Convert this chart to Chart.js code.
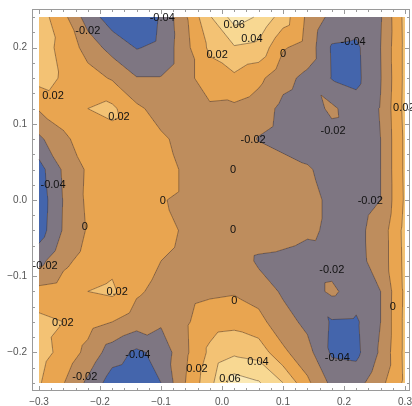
<!DOCTYPE html>
<html>
<head>
<meta charset="utf-8">
<script src="https://cdn.jsdelivr.net/npm/chart.js@4.4.1/dist/chart.umd.min.js"></script>
<style>
  html, body { margin: 0; padding: 0; background: #fff; }
  #wrap { width: 412px; height: 406px; }
</style>
</head>
<body>
<div id="wrap"><canvas id="myChart" width="412" height="406"></canvas></div>
<script>
// sample grid
var xGrid = [-0.30, -0.26, -0.22, -0.18, -0.14, -0.10, -0.06, -0.02, 0.02, 0.06, 0.10, 0.14, 0.18, 0.22, 0.26, 0.30];
var yGrid = [0.24, 0.20, 0.16, 0.12, 0.08, 0.04, 0.00, -0.04, -0.08, -0.12, -0.16, -0.20, -0.24];
var zRows = [
  [0.030, 0.006, -0.030, -0.050, -0.055, -0.038, -0.003, 0.038, 0.068, 0.058, 0.030, -0.004, -0.026, -0.030, -0.022, 0.026],
  [0.028, 0.015, -0.008, -0.028, -0.041, -0.036, -0.006, 0.024, 0.038, 0.034, 0.002, -0.008, -0.042, -0.044, -0.020, 0.025],
  [0.027, 0.018, 0.008, -0.002, -0.019, -0.019, -0.006, 0.010, 0.016, 0.005, -0.014, -0.025, -0.041, -0.045, -0.021, 0.025],
  [0.002, 0.010, 0.020, 0.024, 0.004, -0.008, -0.010, -0.003, -0.004, -0.010, -0.025, -0.030, -0.016, -0.032, -0.019, 0.026],
  [-0.024, -0.004, 0.010, 0.014, 0.010, 0.003, -0.006, -0.006, -0.010, -0.021, -0.027, -0.030, -0.028, -0.030, -0.020, 0.024],
  [-0.048, -0.017, 0.003, 0.010, 0.012, 0.008, -0.003, -0.006, -0.007, -0.010, -0.012, -0.018, -0.027, -0.030, -0.020, 0.024],
  [-0.052, -0.019, 0.004, 0.010, 0.008, 0.001, -0.003, -0.002, -0.002, -0.004, -0.008, -0.014, -0.024, -0.028, -0.020, 0.023],
  [-0.050, -0.018, 0.002, 0.010, 0.009, 0.005, -0.002, -0.002, -0.002, -0.006, -0.010, -0.016, -0.024, -0.025, -0.012, 0.026],
  [-0.026, -0.005, 0.008, 0.014, 0.010, 0.000, -0.004, -0.003, -0.004, -0.024, -0.026, -0.030, -0.028, -0.026, -0.012, 0.025],
  [0.006, 0.010, 0.020, 0.024, 0.003, -0.006, -0.008, -0.004, -0.002, -0.008, -0.023, -0.030, -0.016, -0.030, -0.020, 0.024],
  [0.026, 0.020, 0.008, 0.000, -0.010, -0.017, -0.003, 0.012, 0.014, 0.006, -0.012, -0.025, -0.042, -0.043, -0.020, 0.025],
  [0.028, 0.014, -0.006, -0.030, -0.044, -0.033, -0.004, 0.024, 0.036, 0.032, 0.004, -0.013, -0.043, -0.045, -0.017, 0.025],
  [0.022, 0.001, -0.024, -0.050, -0.055, -0.040, 0.000, 0.034, 0.070, 0.062, 0.040, 0.004, -0.025, -0.028, -0.006, 0.024]
];
var levels = [-0.04, -0.02, 0, 0.02, 0.04, 0.06];
var bandColors = ['#4465ac', '#7e7682', '#be8d5d', '#e9a550', '#f3c274', '#f8d892', '#fbe9b5'];

// contour labels
var labelText = ['-0.04', '-0.02', '0.06', '0.04', '0.02', '0', '-0.04', '0.02', '0.02', '0.02',
                 '-0.02', '-0.02', '-0.04', '0', '0', '-0.02', '0', '0', '-0.02', '-0.02',
                 '0.02', '0', '0', '0.02', '-0.04', '0.02', '0.04', '-0.04', '-0.02', '0.06'];
var labelX = [-0.098, -0.220, 0.020, 0.049, -0.008, 0.100, 0.215, -0.277, -0.169, 0.298,
              0.051, 0.182, -0.277, 0.018, -0.097, 0.243, -0.225, 0.018, -0.290, 0.180,
              -0.172, 0.020, 0.280, -0.261, -0.138, -0.041, 0.059, 0.189, -0.225, 0.013];
var labelY = [0.239, 0.222, 0.230, 0.211, 0.190, 0.192, 0.207, 0.136, 0.109, 0.121,
              0.079, 0.091, 0.020, 0.039, -0.001, -0.001, -0.035, -0.039, -0.087, -0.092,
              -0.121, -0.133, -0.140, -0.161, -0.203, -0.222, -0.213, -0.207, -0.232, -0.235];

var xTicks = [-0.3, -0.2, -0.1, 0, 0.1, 0.2, 0.3];
var yTicks = [-0.2, -0.1, 0, 0.1, 0.2];

function fmt(v) {
  return (v < -1e-9 ? '\u2212' : '') + Math.abs(v).toFixed(1);
}

function hexToRgb(h) {
  return [parseInt(h.substr(1, 2), 16), parseInt(h.substr(3, 2), 16), parseInt(h.substr(5, 2), 16)];
}

function bandOf(v) {
  var b = 0;
  while (b < levels.length && v >= levels[b]) b++;
  return b;
}

// value inside the grid, split each cell into two triangles
function valueAt(x, y) {
  var dx = xGrid[1] - xGrid[0], dy = yGrid[0] - yGrid[1];
  var i = Math.floor((x - xGrid[0]) / dx), j = Math.floor((yGrid[0] - y) / dy);
  i = Math.max(0, Math.min(xGrid.length - 2, i));
  j = Math.max(0, Math.min(yGrid.length - 2, j));
  var u = (x - xGrid[i]) / dx, v = (yGrid[j] - y) / dy;
  var a = zRows[j][i], b = zRows[j][i + 1], c = zRows[j + 1][i], d = zRows[j + 1][i + 1];
  if (u >= v) return a + (b - a) * u + (d - b) * v;
  return a + (c - a) * v + (d - c) * u;
}

var contourPlugin = {
  id: 'contour',
  beforeDatasetsDraw: function (chart) {
    var c = chart.ctx, sx = chart.scales.x, sy = chart.scales.y;
    var left = Math.round(sx.getPixelForValue(xGrid[0]));
    var right = Math.round(sx.getPixelForValue(xGrid[xGrid.length - 1]));
    var top = Math.round(sy.getPixelForValue(yGrid[0]));
    var bottom = Math.round(sy.getPixelForValue(yGrid[yGrid.length - 1]));
    var w = right - left, h = bottom - top;
    var off = document.createElement('canvas');
    off.width = w; off.height = h;
    var octx = off.getContext('2d');
    var img = octx.createImageData(w, h);
    var rgb = bandColors.map(hexToRgb);
    for (var py = 0; py < h; py++) {
      var yv = sy.getValueForPixel(top + py + 0.5);
      for (var px = 0; px < w; px++) {
        var xv = sx.getValueForPixel(left + px + 0.5);
        var col = rgb[bandOf(valueAt(xv, yv))];
        var k = (py * w + px) * 4;
        img.data[k] = col[0]; img.data[k + 1] = col[1]; img.data[k + 2] = col[2]; img.data[k + 3] = 255;
      }
    }
    octx.putImageData(img, 0, 0);
    c.save();
    c.drawImage(off, left, top);

    // contour lines, triangle by triangle
    var P = function (i, j) { return [sx.getPixelForValue(xGrid[i]), sy.getPixelForValue(yGrid[j]), zRows[j][i]]; };
    c.beginPath();
    for (var j = 0; j < yGrid.length - 1; j++) {
      for (var i = 0; i < xGrid.length - 1; i++) {
        var A = P(i, j), B = P(i + 1, j), C = P(i, j + 1), D = P(i + 1, j + 1);
        [[A, B, D], [A, C, D]].forEach(function (tri) {
          levels.forEach(function (L) {
            var pts = [];
            for (var e = 0; e < 3; e++) {
              var p = tri[e], q = tri[(e + 1) % 3];
              if ((p[2] >= L) !== (q[2] >= L)) {
                var t = (L - p[2]) / (q[2] - p[2]);
                pts.push([p[0] + t * (q[0] - p[0]), p[1] + t * (q[1] - p[1])]);
              }
            }
            if (pts.length === 2) {
              c.moveTo(pts[0][0], pts[0][1]);
              c.lineTo(pts[1][0], pts[1][1]);
            }
          });
        });
      }
    }
    c.strokeStyle = 'rgba(70,50,40,0.6)';
    c.lineWidth = 0.8;
    c.stroke();
    c.restore();
  },
  afterDatasetsDraw: function (chart) {
    var c = chart.ctx, sx = chart.scales.x, sy = chart.scales.y, area = chart.chartArea;
    c.save();
    c.fillStyle = '#111';
    c.font = '11px "Liberation Sans", Arial, sans-serif';
    c.textAlign = 'center';
    c.textBaseline = 'middle';
    for (var n = 0; n < labelText.length; n++) {
      c.fillText(labelText[n], sx.getPixelForValue(labelX[n]), sy.getPixelForValue(labelY[n]));
    }

    // frame with inward ticks
    var l = Math.round(area.left) + 0.5, r = Math.round(area.right) - 0.5;
    var t = Math.round(area.top) + 0.5, b = Math.round(area.bottom) - 0.5;
    c.strokeStyle = '#9a9a9a';
    c.lineWidth = 1;
    c.strokeRect(l, t, r - l, b - t);
    c.beginPath();
    for (var k = -15; k <= 15; k++) {
      var len = (k % 5 === 0) ? 4.5 : 2.5;
      var x = Math.round(sx.getPixelForValue(k * 0.02)) + 0.5;
      c.moveTo(x, b); c.lineTo(x, b - len);
      c.moveTo(x, t); c.lineTo(x, t + len);
    }
    for (var m = -12; m <= 12; m++) {
      var len2 = (m % 5 === 0) ? 4.5 : 2.5;
      var y = Math.round(sy.getPixelForValue(m * 0.02)) + 0.5;
      c.moveTo(l, y); c.lineTo(l + len2, y);
      c.moveTo(r, y); c.lineTo(r - len2, y);
    }
    c.stroke();
    c.restore();
  }
};

// grid nodes as the (invisible) dataset
var gridPoints = [];
yGrid.forEach(function (y, j) {
  xGrid.forEach(function (x, i) { gridPoints.push({ x: x, y: y, z: zRows[j][i] }); });
});

var ctx = document.getElementById('myChart').getContext('2d');
var myChart = new Chart(ctx, {
  type: 'scatter',
  data: {
    datasets: [{
      data: gridPoints,
      pointRadius: 0,
      pointHoverRadius: 0
    }]
  },
  options: {
    responsive: false,
    animation: false,
    devicePixelRatio: 1,
    layout: { padding: { top: 9, right: 2, left: 0, bottom: 0 } },
    plugins: {
      legend: { display: false },
      tooltip: { enabled: false }
    },
    scales: {
      x: {
        type: 'linear',
        min: -0.3115,
        max: 0.3082,
        grid: { display: false, drawTicks: false },
        border: { display: false },
        afterBuildTicks: function (s) { s.ticks = xTicks.map(function (v) { return { value: v }; }); },
        afterFit: function (s) { s.height = 15; s.paddingLeft = 0; s.paddingRight = 0; },
        ticks: {
          autoSkip: false,
          maxRotation: 0,
          padding: 5,
          color: '#555',
          font: { size: 10, family: '"Liberation Sans", Arial, sans-serif' },
          callback: fmt
        }
      },
      y: {
        type: 'linear',
        min: -0.2507,
        max: 0.2507,
        grid: { display: false, drawTicks: false },
        border: { display: false },
        afterBuildTicks: function (s) { s.ticks = yTicks.map(function (v) { return { value: v }; }); },
        afterFit: function (s) { s.width = 32; s.paddingTop = 0; s.paddingBottom = 0; },
        ticks: {
          autoSkip: false,
          padding: 5,
          color: '#555',
          font: { size: 10, family: '"Liberation Sans", Arial, sans-serif' },
          callback: fmt
        }
      }
    }
  },
  plugins: [contourPlugin]
});
</script>
</body>
</html>
